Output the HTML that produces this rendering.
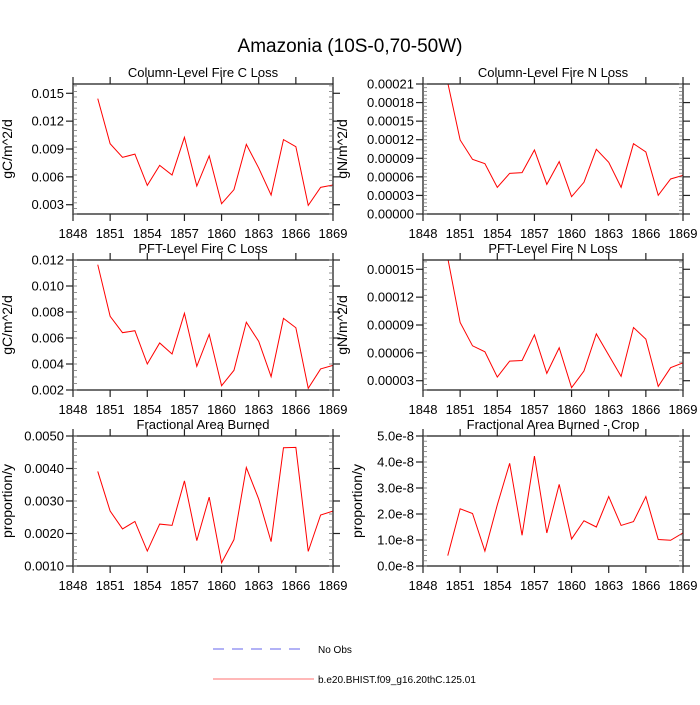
<!DOCTYPE html>
<html><head><meta charset="utf-8"><style>
body{margin:0;background:#fff;}
svg text{font-family:"Liberation Sans",sans-serif;fill:#000;}
</style></head><body>
<svg id="chart" width="700" height="700" viewBox="0 0 700 700" xmlns="http://www.w3.org/2000/svg">
<text x="350" y="52" font-size="19" text-anchor="middle">Amazonia (10S-0,70-50W)</text>
<g id="panels"></g>
<g>
<line x1="213" y1="649" x2="307" y2="649" stroke="#6666ee" stroke-width="1" stroke-dasharray="11,8"/>
<text x="318" y="653" font-size="10">No Obs</text>
<line x1="213" y1="679" x2="314" y2="679" stroke="#ff7070" stroke-width="1"/>
<text x="318" y="683" font-size="10">b.e20.BHIST.f09_g16.20thC.125.01</text>
</g>
</svg>
<script>
const years = [1850,1851,1852,1853,1854,1855,1856,1857,1858,1859,1860,1861,1862,1863,1864,1865,1866,1867,1868,1869];
const xTicks = [1848,1851,1854,1857,1860,1863,1866,1869];
const colC = [0.01443,0.00957,0.0081,0.00845,0.00508,0.00724,0.0062,0.01026,0.00501,0.00826,0.00311,0.00462,0.0095,0.00695,0.00404,0.01001,0.00925,0.00293,0.00487,0.00512];
const colN = [0.000212,0.0001196,0.0000883,0.0000813,0.0000431,0.0000657,0.0000668,0.0001034,0.0000479,0.0000846,0.000028,0.0000512,0.0001045,0.0000835,0.0000431,0.0001136,0.0001002,0.0000302,0.0000566,0.0000625];
const pftC = [0.01164,0.00767,0.00641,0.00656,0.004,0.00562,0.00477,0.0079,0.00382,0.00628,0.00233,0.00351,0.00721,0.00574,0.00303,0.00751,0.00679,0.00213,0.00362,0.0039];
const pftN = [0.000162,0.0000927,0.0000676,0.0000612,0.0000339,0.0000511,0.0000518,0.0000794,0.0000379,0.0000655,0.0000225,0.0000404,0.0000805,0.0000576,0.0000347,0.0000873,0.0000748,0.0000239,0.000044,0.0000493];
const fab = [0.00391,0.00269,0.00214,0.00237,0.00146,0.00229,0.00225,0.00362,0.00178,0.00312,0.0011,0.00181,0.00403,0.00306,0.00175,0.00464,0.00465,0.00145,0.00257,0.00269];
const fabCrop = [0.4e-8,2.2e-8,2.02e-8,0.57e-8,2.35e-8,3.95e-8,1.18e-8,4.23e-8,1.27e-8,3.14e-8,1.04e-8,1.74e-8,1.5e-8,2.67e-8,1.56e-8,1.71e-8,2.67e-8,1.02e-8,0.99e-8,1.27e-8];
const ticksColC = ["0.003","0.006","0.009","0.012","0.015"];
const ticksColN = ["0.00000","0.00003","0.00006","0.00009","0.00012","0.00015","0.00018","0.00021"];
const ticksPftC = ["0.002","0.004","0.006","0.008","0.010","0.012"];
const ticksPftN = ["0.00003","0.00006","0.00009","0.00012","0.00015"];
const ticksFab = ["0.0010","0.0020","0.0030","0.0040","0.0050"];
const ticksCrop = ["0.0e-8","1.0e-8","2.0e-8","3.0e-8","4.0e-8","5.0e-8"];

const NS="http://www.w3.org/2000/svg";
const root=document.getElementById('panels');
function mk(tag,attrs,parent){const e=document.createElementNS(NS,tag);for(const k in attrs)e.setAttribute(k,attrs[k]);(parent||root).appendChild(e);return e;}

const panels=[
 {name:'column-c',title:'Column-Level Fire C Loss',ylab:'gC/m^2/d',x0:73,y0:84,vals:colC,ticks:ticksColC,ymin:0.002,ymax:0.016,step:0.003,minor:5,scale:1,labx:12},
 {name:'column-n',title:'Column-Level Fire N Loss',ylab:'gN/m^2/d',x0:423,y0:84,vals:colN,ticks:ticksColN,ymin:0,ymax:0.00021,step:0.00003,minor:5,scale:1,labx:347},
 {name:'pft-c',title:'PFT-Level Fire C Loss',ylab:'gC/m^2/d',x0:73,y0:260,vals:pftC,ticks:ticksPftC,ymin:0.002,ymax:0.012,step:0.002,minor:4,scale:1,labx:12},
 {name:'pft-n',title:'PFT-Level Fire N Loss',ylab:'gN/m^2/d',x0:423,y0:260,vals:pftN,ticks:ticksPftN,ymin:0.00002,ymax:0.00016,step:0.00003,minor:5,scale:1,labx:347},
 {name:'area-burned',title:'Fractional Area Burned',ylab:'proportion/y',x0:73,y0:436,vals:fab,ticks:ticksFab,ymin:0.001,ymax:0.005,step:0.001,minor:5,scale:1,labx:12},
 {name:'area-burned-crop',title:'Fractional Area Burned - Crop',ylab:'proportion/y',x0:423,y0:436,vals:fabCrop,ticks:ticksCrop,ymin:0,ymax:5e-8,step:1e-8,minor:5,scale:1,labx:362}
];
const W=260,H=130;
panels.forEach(p=>{
 const g=mk('g',{});
 
 
 const xs=v=>p.x0+(v-1848)/(1869-1848)*W;
 const ys=v=>p.y0+H-(v-p.ymin)/(p.ymax-p.ymin)*H;
 const cp='clip-'+p.name;
 const c=mk('clipPath',{id:cp},g);mk('rect',{x:p.x0,y:p.y0,width:W,height:H},c);
 // line
 const d=p.vals.map((v,i)=>(i?'L':'M')+xs(years[i]).toFixed(2)+','+ys(v).toFixed(2)).join(' ');
 const ln=mk('path',{d:d,fill:'none',stroke:'#ff0000','stroke-width':1,'clip-path':'url(#'+cp+')'},g);
 
 
 // frame
 const fr=mk('rect',{x:p.x0,y:p.y0,width:W,height:H,fill:'none',stroke:'#222','stroke-width':1.3},g);
 
 
 // y ticks
 p.ticks.forEach((t,i)=>{
  const v=p.ymin+Math.ceil((parseFloat(t)-p.ymin)/p.step-1e-6)*0+0; 
  const val=parseFloat(t);
  const y=ys(val);
  mk('line',{x1:p.x0-7,y1:y,x2:p.x0,y2:y,stroke:'#222','stroke-width':1.2},g);
  mk('line',{x1:p.x0+W,y1:y,x2:p.x0+W+7,y2:y,stroke:'#222','stroke-width':1.2},g);
  const tx=mk('text',{x:p.x0-9,y:y+4.5,'font-size':13,'text-anchor':'end'},g);
  tx.textContent=t;
  
  
 });
 // minor y ticks
 const ms=p.step/p.minor;
 for(let v=p.ymin;v<=p.ymax+ms*0.01;v+=ms){
  const y=ys(v);
  mk('line',{x1:p.x0,y1:y,x2:p.x0+4,y2:y,stroke:'#777','stroke-width':0.8},g);
  mk('line',{x1:p.x0+W-4,y1:y,x2:p.x0+W,y2:y,stroke:'#777','stroke-width':0.8},g);
 }
 // x ticks
 xTicks.forEach(t=>{
  const x=xs(t);
  mk('line',{x1:x,y1:p.y0+H,x2:x,y2:p.y0+H+7,stroke:'#222','stroke-width':1.2},g);
  mk('line',{x1:x,y1:p.y0-7,x2:x,y2:p.y0,stroke:'#222','stroke-width':1.2},g);
  const tx=mk('text',{x:x,y:p.y0+H+24,'font-size':13,'text-anchor':'middle'},g);
  tx.textContent=t;
  
  
 });
 const ti=mk('text',{x:p.x0+W/2,y:p.y0-7,'font-size':13,'text-anchor':'middle'},g);
 ti.textContent=p.title;
 
 
 const yl=mk('text',{x:0,y:0,'font-size':14,'text-anchor':'middle',transform:'translate('+(p.labx)+','+(p.y0+H/2)+') rotate(-90)'},g);
 yl.textContent=p.ylab;
 
 
});
</script>
</body></html>
